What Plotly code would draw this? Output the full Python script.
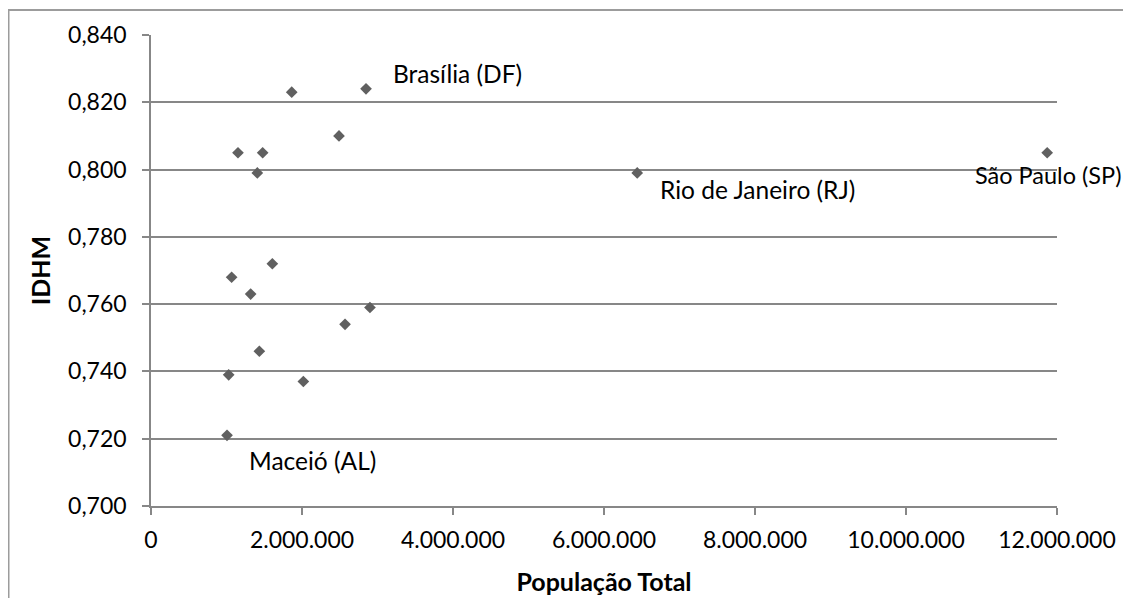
import plotly.graph_objects as go

# Data
populacao = [1864000, 2848000, 2490000, 1152000, 1479000, 1408000, 1607000, 1068000,
             1320000, 2900000, 2570000, 1435000, 1029000, 2018000, 1007000, 6440000, 11870000]
idhm = [0.823, 0.824, 0.810, 0.805, 0.805, 0.799, 0.772, 0.768,
        0.763, 0.759, 0.754, 0.746, 0.739, 0.737, 0.721, 0.799, 0.805]

label_names = ["Brasília (DF)", "Rio de Janeiro (RJ)", "São Paulo (SP)", "Maceió (AL)"]
label_x = [2848000, 6440000, 11870000, 1007000]
label_y = [0.824, 0.799, 0.805, 0.721]
label_shift = [(25, 15), (21, -17), (-74, -22), (20, -25)]
label_size = [24.5, 24.5, 23.5, 24.5]

y_ticks = [0.700, 0.720, 0.740, 0.760, 0.780, 0.800, 0.820, 0.840]
x_ticks = [0, 2000000, 4000000, 6000000, 8000000, 10000000, 12000000]

FONT = "Lato"
GRID = "#878787"

fig = go.Figure()
fig.add_trace(go.Scatter(
    x=populacao, y=idhm, mode="markers",
    marker=dict(symbol="diamond", size=9, color="#606060", line=dict(width=0)),
    hoverinfo="x+y", showlegend=False,
))

for name, lx, ly, (dx, dy), fs in zip(label_names, label_x, label_y, label_shift, label_size):
    fig.add_annotation(x=lx, y=ly, text=name, showarrow=False,
                       xanchor="left", yanchor="middle", xshift=dx, yshift=dy,
                       font=dict(family=FONT, size=fs, color="#000000"))

# page body has an 8px offset; size the figure to the remaining viewport
W, H = 1123, 590
ml, mr, mt, mb = 143, 74, 27, 92
pw, ph = W - ml - mr, H - mt - mb
# outer chart border (left and top edges visible)
fig.add_shape(type="rect", xref="paper", yref="paper",
              x0=(0.5 - ml) / pw, x1=(W + 20 - ml) / pw,
              y0=-(H + 20 - mt - ph) / ph, y1=1 + (mt - 2) / ph,
              line=dict(color="#9c9c9c", width=2), fillcolor="rgba(0,0,0,0)", layer="below")

fig.update_layout(
    width=W, height=H,
    margin=dict(l=ml, r=mr, t=mt, b=mb, autoexpand=False),
    paper_bgcolor="white", plot_bgcolor="white",
    separators=",.",
    font=dict(family=FONT, size=23, color="#000000"),
    xaxis=dict(
        range=[0, 12000000], tickvals=x_ticks, tickformat=",.0f",
        showgrid=False, zeroline=False, automargin=False,
        showline=True, linecolor=GRID, linewidth=1.5,
        ticks="outside", ticklen=7, tickcolor=GRID, tickwidth=1.5,
        ticklabelstandoff=6,
        title=dict(text="<b>População Total</b>", font=dict(family=FONT, size=25), standoff=21),
    ),
    yaxis=dict(
        range=[0.700, 0.840], tickvals=y_ticks, tickformat=".3f",
        showgrid=True, gridcolor=GRID, gridwidth=1.5, zeroline=False, automargin=False,
        showline=True, linecolor=GRID, linewidth=1.5,
        ticks="outside", ticklen=7, tickcolor=GRID, tickwidth=1.5,
        ticklabelstandoff=11,
        title=dict(text="<b>IDHM</b>", font=dict(family=FONT, size=25), standoff=10),
    ),
)

fig.write_html("out.html")
